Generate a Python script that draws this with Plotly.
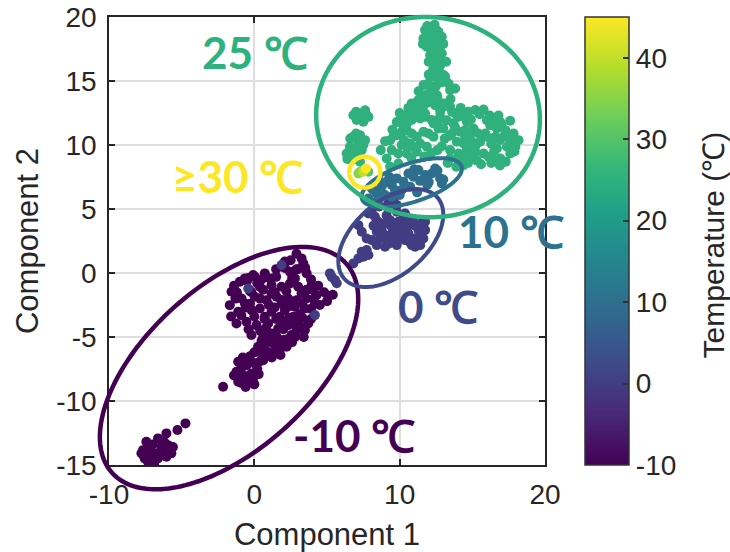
import numpy as np
import plotly.graph_objects as go

# ---- data: 2-D embedding of samples, coloured by test temperature (°C) ----
# cluster recorded at -10 °C
cold_x = [3.25, 3.37, 0.72, 1.07, 2.45, 2.79, 3.60, 0.03, -0.08, -1.00, 0.38, 1.18, 1.87, 2.45,
          3.02, 3.94, -1.57, -0.88, 0.03, 0.84, 1.53, 2.33, 2.91, 3.60, 4.28, -1.69, -1.11, -0.20,
          0.38, 1.18, 2.10, 2.79, 3.48, -1.23, -0.54, 0.15, 0.95, 1.64, 2.33, 3.02, 3.71, -0.20,
          0.61, 1.18, 1.99, 2.56, 0.26, 0.84, 1.53, 2.22, -1.11, -0.54, 0.03, 0.61, -1.23, -0.77,
          -0.20, -1.11, -0.54, -0.08, -2.15, -0.65, 1.87, 2.68, 0.72, 1.30, 1.76, -0.65, 1.18,
          3.25, 3.48, 4.17, 4.80, 5.10, 5.40, 5.00, 2.10, 2.90, 0.50, -0.30,
          -1.40, -1.30, -0.50, 0.50, 1.50, 2.10, 2.90, 3.00, 3.90, 4.00, -0.30, 0.40, 1.00, 1.90,
          2.60, 3.30, 4.50, -0.90, 0.00, 0.70, 1.50, 2.40, 3.10, 3.90, 0.40, 1.50, 2.90, 3.40,
          0.90, 1.80, 2.60, 0.50, 1.20, -0.30, -0.80, -0.50, -1.40, 0.20, -0.90, 0.40,
          -1.20, -0.20, 0.60, 1.40, 2.20, 2.60, 3.60, -0.60, 1.40, 2.40, 3.90, -1.60, -0.40,
          0.80, 2.00, 2.60, 3.20, 1.00, 2.20, 0.50, 1.60, 2.80, 0.00, 1.00, 1.80, -0.80, -0.30,
          0.30, -1.00, -0.60, 0.00, 1.50, 2.50, 3.50, 0.20, -0.40, 4.40, 4.10, 3.30, 1.90,
          -4.74, -5.29, -6.05, -6.63, -5.94, -6.40, -7.43, -7.66, -7.20, -6.86, -6.29, -5.71,
          -7.55, -7.09, -6.63, -6.05, -7.77, -7.32, -7.00, -6.50, -7.40, -6.90, -6.20, -5.60]
cold_y = [1.14, 0.75, -0.03, -0.42, 0.10, -0.42, -0.03, -0.29, -0.16, -0.68, -1.08, -0.95, -1.07,
          -0.82, -1.07, -0.95, -1.47, -1.99, -1.86, -2.12, -1.86, -1.99, -2.12, -1.99, -1.73, -2.51,
          -3.03, -2.90, -2.77, -3.03, -2.90, -2.64, -2.77, -3.94, -3.81, -4.07, -3.94, -4.33, -4.07,
          -3.81, -3.94, -4.85, -4.98, -4.72, -5.24, -4.85, -5.76, -6.15, -6.02, -5.76, -6.93, -7.20,
          -7.06, -6.81, -7.72, -7.98, -7.85, -8.50, -8.63, -8.24, -8.89, -2.38, -2.38, -3.42, -3.42,
          -5.50, -3.42, -0.42, -1.60, -1.60, -4.46, -2.38, -1.50, -1.80, -1.70, -2.20, 0.40, 0.30,
          -5.30, -1.40,
          -1.00, -2.00, -0.60, -0.50, -0.30, 0.90, 1.50, 0.30, -0.50, -1.30, -2.40, -2.00, -2.50,
          -2.10, -2.30, -2.40, -2.50, -3.30, -3.40, -3.60, -3.60, -3.50, -3.20, -3.60, -4.50,
          -4.90, -4.50, -5.00, -5.40, -5.90, -5.40, -6.30, -6.60, -6.50, -7.30, -8.10, -8.00,
          -7.50, -8.60, -6.90,
          -1.50, -1.50, -1.30, -1.50, -1.40, -0.40, -1.30, -2.70, -2.70, -2.60, -2.80, -3.40,
          -4.40, -4.30, -4.40, -3.90, -4.20, -5.00, -5.20, -5.60, -5.60, -5.00, -6.20, -6.20,
          -6.40, -6.60, -7.00, -7.90, -7.60, -8.90, -8.70, 0.30, 1.00, 0.40, -0.80, -0.40,
          -1.00, -2.00, -3.50, -3.80,
          -11.75, -12.27, -12.53, -12.92, -13.45, -13.58, -13.19, -13.84, -13.71, -14.09, -13.97,
          -14.09, -14.48, -14.75, -14.48, -14.36, -14.09, -14.75, -13.40, -14.10, -14.30, -14.90,
          -13.20, -13.60]

# cluster recorded at 0 °C
zero_x = [1.87, -0.42, 4.17, 5.20, 5.32, 5.55, 5.67, 6.81, 7.16, 7.39, 7.73, 7.85, 7.51, 7.73,
          8.08, 8.42, 8.65, 8.42, 8.76, 8.99, 9.11, 9.34, 9.57, 9.68, 9.45, 9.80, 10.03, 10.37,
          10.14, 10.60, 10.95, 11.06, 10.83, 11.41, 11.63, 11.75, 11.29, 10.95, 10.49, 10.26, 9.91,
          9.34, 8.99, 8.53, 8.30, 8.08, 7.85, 7.16, 7.39, 9.80, 10.37, 9.57, 9.80, 11.75,
          8.90, 9.90, 10.70, 9.30, 10.40, 11.30, 8.20, 9.10, 10.90, 11.50, 8.60, 9.20, 9.80]
zero_y = [0.62, -1.21, -3.29, -0.03, -0.30, -0.55, -0.80, 0.75, 1.14, 1.66, 1.79, 1.40, 1.27,
          2.70, 2.57, 2.18, 2.70, 3.22, 3.35, 2.05, 2.70, 2.96, 2.57, 3.22, 3.61, 2.18, 2.70, 2.57,
          3.22, 3.09, 2.70, 2.05, 2.18, 2.18, 2.70, 3.35, 3.35, 3.74, 3.74, 4.39, 4.00, 4.13, 3.87,
          4.00, 4.39, 4.78, 4.65, 3.74, 3.22, 4.78, 4.65, 5.69, 5.30, 4.00,
          3.00, 3.50, 2.40, 2.30, 3.90, 2.80, 3.70, 4.50, 4.20, 3.90, 5.20, 5.40, 2.90]

# cluster recorded at 10 °C
ten_x = [8.08, 8.42, 8.76, 9.11, 9.45, 9.80, 10.26, 10.60, 10.95, 11.29, 11.75, 12.21, 12.78,
         12.90, 8.99, 9.45, 10.14, 10.72, 12.44, 9.68, 8.53, 7.85, 8.19, 11.40, 12.00,
         13.00, 12.60, 11.00, 9.30, 8.60, 10.00, 11.20, 11.90, 8.30]
ten_y = [6.61, 6.22, 6.74, 7.13, 6.87, 7.39, 7.13, 7.78, 7.52, 8.04, 7.65, 7.78, 7.39, 7.00,
         6.09, 5.96, 6.48, 6.74, 8.17, 6.48, 5.69, 5.82, 6.48, 7.20, 7.10,
         7.30, 8.00, 8.10, 7.50, 7.20, 6.10, 6.30, 6.90, 5.50]

# cluster recorded at 25 °C
warm_x = [12.33, 12.78, 13.13, 13.36, 13.47, 13.82, 12.56, 13.01, 13.47, 13.82, 14.39, 14.74,
          15.20, 15.77, 14.05, 12.78, 12.33, 13.24, 13.70, 14.62, 12.67, 13.59, 14.16, 14.51,
          15.08, 14.85, 15.42, 16.00, 16.45, 16.91, 16.23, 16.69, 17.27, 17.84, 18.18, 17.61,
          17.15, 16.58, 16.00, 15.54, 14.97, 14.39, 13.93, 13.47, 14.05, 14.62, 15.20, 15.77,
          16.12, 16.69, 17.38, 17.96, 16.93, 17.61, 16.46, 14.39, 14.85, 13.47, 16.90, 17.30,
          11.75, 12.21, 12.67, 11.64, 12.10, 12.56, 12.90, 11.87, 12.33, 12.79, 12.10, 12.56,
          12.90, 12.33, 12.79, 12.67, 13.02, 12.44, 11.98, 11.64, 12.21, 11.75, 11.29, 11.06,
          10.83, 11.41, 12.10, 12.44, 12.79, 10.37, 10.14, 10.83, 11.29, 11.75, 12.21, 12.67,
          6.81, 7.27, 7.62, 7.85, 7.50, 7.04, 7.39,
          6.81, 7.27, 7.62, 7.16, 6.58, 6.35, 6.93, 7.39, 6.70, 7.27,
          9.34, 9.80, 10.14, 10.49, 10.83, 11.18, 11.64, 11.98, 12.33, 10.14, 10.72, 11.41, 9.45,
          9.91, 9.11, 10.49, 11.18, 11.87, 9.34, 9.91, 10.60, 11.06, 11.41, 11.75, 10.83, 11.41,
          10.14, 10.49, 13.30, 13.90, 14.40, 14.10,
          11.90, 12.50, 12.20, 11.60, 13.00, 12.00, 12.50, 13.20, 12.90, 12.00, 11.30, 12.60,
          11.90, 10.90, 10.00, 9.50, 9.00, 8.70, 10.50, 11.70, 12.60, 13.10, 13.00, 13.60,
          14.20, 15.50, 16.20, 17.00, 17.50, 18.00, 17.90, 16.30, 15.20, 14.70, 15.30, 16.50,
          6.60, 7.00, 6.90, 7.50, 6.40, 7.00, 7.70,
          11.80, 12.40, 12.80, 12.30, 11.90, 12.60, 12.20, 12.70, 12.30, 12.80, 12.50, 12.00,
          11.60, 10.60, 9.80, 9.60, 10.30, 11.00, 10.80, 12.20, 12.90, 13.40, 14.50, 15.90,
          16.90, 17.60, 16.80, 16.30, 15.60, 14.00, 13.80, 14.90, 13.50, 13.00]
warm_y = [15.59, 15.20, 15.33, 14.81, 14.29, 14.41, 13.90, 13.25, 12.99, 12.47, 12.34, 12.60,
          12.73, 12.78, 12.21, 12.21, 11.69, 11.94, 11.69, 11.82, 11.29, 10.90, 11.03, 11.16,
          11.29, 10.77, 10.90, 11.94, 11.94, 11.81, 11.55, 11.29, 11.16, 10.90, 10.38, 10.38,
          10.64, 10.64, 10.64, 10.25, 10.25, 10.12, 10.25, 9.60, 9.34, 9.60, 9.47, 9.34, 9.08,
          9.73, 9.86, 9.86, 8.95, 9.34, 8.82, 8.43, 9.08, 8.95, 8.40, 8.70,
          18.98, 19.24, 18.85, 18.33, 18.46, 18.20, 18.46, 17.68, 17.54, 17.68, 17.02, 16.89,
          17.15, 16.37, 16.24, 15.85, 15.46, 15.33, 14.81, 14.68, 14.29, 13.89, 13.51, 13.25,
          13.11, 12.85, 13.38, 13.11, 12.60, 12.07, 11.68, 11.95, 12.33, 12.20, 11.95, 11.95,
          12.33, 12.46, 12.72, 12.20, 11.81, 11.95, 12.20,
          10.64, 10.77, 10.38, 10.12, 9.86, 9.34, 9.34, 9.60, 8.82, 8.69,
          10.38, 10.77, 11.03, 11.16, 10.90, 10.64, 11.03, 10.90, 10.64, 10.00, 10.12, 10.12, 9.60,
          9.34, 8.95, 9.34, 9.47, 9.86, 8.30, 8.56, 12.46, 12.46, 12.07, 12.46, 13.25, 13.12,
          12.07, 11.68, 8.60, 8.30, 8.90, 8.56,
          19.30, 19.00, 18.70, 17.90, 17.90, 16.50, 16.00, 16.50, 14.90, 15.50, 14.20, 13.70,
          13.30, 12.60, 12.50, 11.20, 10.30, 9.60, 9.90, 9.10, 9.60, 10.50, 11.30, 12.60,
          12.90, 12.40, 12.30, 11.60, 10.80, 10.30, 9.50, 10.10, 9.90, 8.60, 8.80, 9.50,
          10.50, 10.90, 9.60, 10.00, 8.90, 12.60, 12.40,
          19.00, 19.40, 18.00, 18.10, 18.40, 17.30, 17.30, 16.60, 15.90, 15.60, 14.60, 14.00,
          13.00, 12.90, 11.80, 10.70, 10.40, 9.80, 9.00, 9.40, 9.90, 10.70, 10.60, 10.90,
          10.40, 11.90, 12.30, 8.60, 8.50, 8.90, 11.40, 12.00, 13.60, 13.00]

# hot samples (>= 30 °C)
hot_x = [7.16, 7.84, 7.27, 7.50, 7.68]
hot_y = [7.78, 7.91, 7.91, 7.91, 8.17]
hot_t = [35, 30, 35, 40, 45]

x_ticks = [-10, 0, 10, 20]
x_tick_text = ["-10", "0", "10", "20"]
y_ticks = [-15, -10, -5, 0, 5, 10, 15, 20]
y_tick_text = ["-15", "-10", "-5", "0", "5", "10", "15", "20"]
cbar_ticks = [-10, 0, 10, 20, 30, 40]
cbar_tick_text = ["-10", "0", "10", "20", "30", "40"]

# ---- assemble one marker trace so all points share the colour scale ----
xs = cold_x + warm_x + zero_x + ten_x + hot_x
ys = cold_y + warm_y + zero_y + ten_y + hot_y
ts = ([-10] * len(cold_x) + [25] * len(warm_x) + [0] * len(zero_x)
      + [10] * len(ten_x) + hot_t)

W, H = 730, 552
M = dict(l=109, r=185, t=17, b=87, autoexpand=False)
X_RANGE, Y_RANGE = (-10, 20), (-15, 20)
PLOT_W = W - M["l"] - M["r"]
PLOT_H = H - M["t"] - M["b"]

FONT = "Liberation Sans, Arial, sans-serif"
LABEL_FONT = "Liberation Sans Narrow, Arial Narrow, Lato, sans-serif"
INK = "#262626"

fig = go.Figure()
fig.add_trace(go.Scatter(
    x=xs, y=ys, mode="markers",
    marker=dict(size=10, color=ts, colorscale="Viridis", cmin=-10, cmax=45,
                line=dict(width=0),
                colorbar=dict(
                    x=(585 - M["l"]) / PLOT_W, xanchor="left", xpad=0,
                    y=0.5, yanchor="middle", ypad=0,
                    len=1.0, lenmode="fraction", thickness=44,
                    outlinewidth=1.5, outlinecolor="#333333",
                    ticks="inside", ticklen=6, tickwidth=1.5, tickcolor="#333333",
                    tickvals=cbar_ticks, ticktext=cbar_tick_text,
                    tickfont=dict(family=FONT, size=28, color=INK),
                )),
    hoverinfo="skip", showlegend=False,
))


def ellipse_path(cx, cy, a_px, b_px, ang_deg, n=180):
    """Closed path (paper coords) of an ellipse centred on a data point, axes in pixels."""
    t = np.linspace(0, 2 * np.pi, n)
    th = np.radians(ang_deg)
    dx = a_px * np.cos(t) * np.cos(th) - b_px * np.sin(t) * np.sin(th)
    dy = a_px * np.cos(t) * np.sin(th) + b_px * np.sin(t) * np.cos(th)
    px = (cx - X_RANGE[0]) / (X_RANGE[1] - X_RANGE[0]) + dx / PLOT_W
    py = (cy - Y_RANGE[0]) / (Y_RANGE[1] - Y_RANGE[0]) + dy / PLOT_H
    return "M " + " L ".join(f"{u:.5f},{v:.5f}" for u, v in zip(px, py)) + " Z"


# group outlines: centre (data), semi-axes (px), tilt (deg), colour, width
groups = [
    (-1.74, -7.43, 157, 82, 41.8, "#440154", 4.5),
    (9.39, 2.73, 61.8, 36.5, 40.9, "#3e4a89", 4),
    (10.83, 7.06, 52.4, 19.2, 18.1, "#2c728e", 4),
    (11.95, 12.18, 112, 100, -6, "#2db27d", 4.5),
    (7.60, 7.88, 15.5, 15.5, 0, "#fde725", 4.5),
]
for cx, cy, a, b, ang, col, lw in groups:
    fig.add_shape(type="path", xref="paper", yref="paper",
                  path=ellipse_path(cx, cy, a, b, ang),
                  line=dict(color=col, width=lw), layer="above")

# group labels
labels = [
    ("25 ℃", 0.03, 17.30, "#2db27d"),
    ("≥30 ℃", -1.17, 7.55, "#fde725"),
    ("10 ℃", 17.68, 3.25, "#2c728e"),
    ("0 ℃", 12.65, -2.55, "#3e4a89"),
    ("-10 ℃", 6.86, -12.62, "#440154"),
]
for txt, lx, ly, col in labels:
    fig.add_annotation(x=lx, y=ly, text=f"<b>{txt}</b>", showarrow=False,
                       font=dict(family=LABEL_FONT, size=44, color=col),
                       xanchor="center", yanchor="middle")

fig.add_annotation(xref="paper", yref="paper", x=(713 - M["l"]) / PLOT_W, y=0.49,
                   text="Temperature (℃)", textangle=-90, showarrow=False,
                   font=dict(family=FONT, size=30, color=INK),
                   xanchor="center", yanchor="middle")

axis_common = dict(
    showline=True, linecolor=INK, linewidth=1.5, mirror="ticks",
    ticks="inside", ticklen=6, tickwidth=1.5, tickcolor=INK,
    showgrid=True, gridcolor="#dedede", gridwidth=1.5, zeroline=False,
    tickfont=dict(family=FONT, size=28, color=INK),
)
fig.update_xaxes(range=list(X_RANGE), tickvals=x_ticks, ticktext=x_tick_text,
                 ticklabelstandoff=4,
                 title=dict(text="Component 1", standoff=16,
                            font=dict(family=FONT, size=31, color=INK)),
                 **axis_common)
fig.update_yaxes(range=list(Y_RANGE), tickvals=y_ticks, ticktext=y_tick_text,
                 ticklabelstandoff=5,
                 title=dict(text="Component 2", standoff=8,
                            font=dict(family=FONT, size=31, color=INK)),
                 **axis_common)

fig.update_layout(width=W, height=H, margin=M, plot_bgcolor="white", paper_bgcolor="white")
fig.write_html("out.html")
